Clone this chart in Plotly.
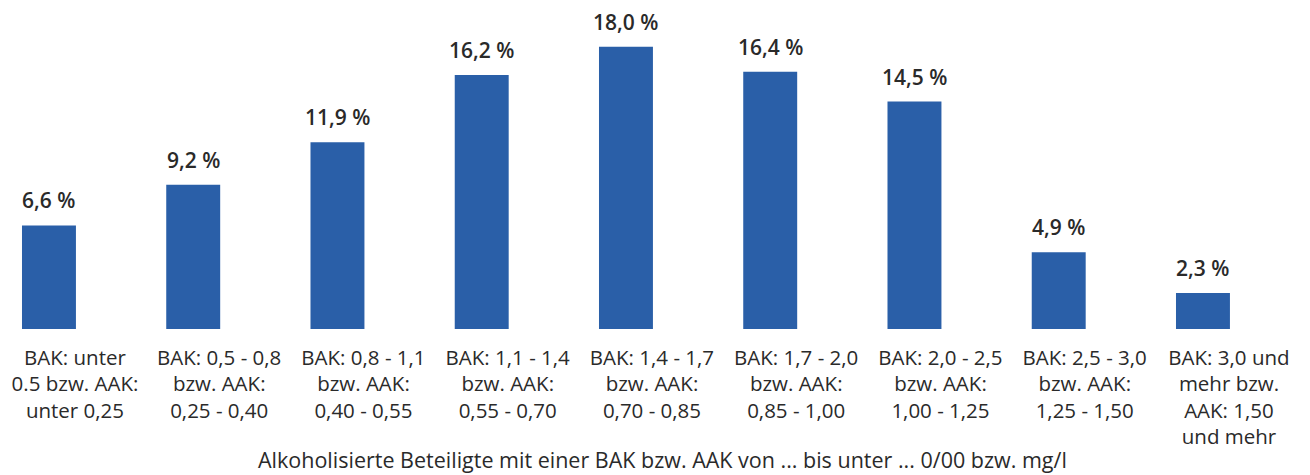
import plotly.graph_objects as go

categories = [
    "BAK: unter<br>0.5 bzw. AAK:<br>unter 0,25",
    "BAK: 0,5 - 0,8<br>bzw. AAK:<br>0,25 - 0,40",
    "BAK: 0,8 - 1,1<br>bzw. AAK:<br>0,40 - 0,55",
    "BAK: 1,1 - 1,4<br>bzw. AAK:<br>0,55 - 0,70",
    "BAK: 1,4 - 1,7<br>bzw. AAK:<br>0,70 - 0,85",
    "BAK: 1,7 - 2,0<br>bzw. AAK:<br>0,85 - 1,00",
    "BAK: 2,0 - 2,5<br>bzw. AAK:<br>1,00 - 1,25",
    "BAK: 2,5 - 3,0<br>bzw. AAK:<br>1,25 - 1,50",
    "BAK: 3,0 und<br>mehr bzw.<br>AAK: 1,50<br>und mehr",
]
values = [6.6, 9.2, 11.9, 16.2, 18.0, 16.4, 14.5, 4.9, 2.3]
value_labels = ["6,6 %", "9,2 %", "11,9 %", "16,2 %", "18,0 %", "16,4 %", "14,5 %", "4,9 %", "2,3 %"]
x_title = "Alkoholisierte Beteiligte mit einer BAK bzw. AAK von ... bis unter ... 0/00 bzw. mg/l"

FONT = "Open Sans"
TXT = "#2a2a2a"
W, H = 1302, 467   # page body has an 8px margin
T, B = 12, 146

xs = list(range(len(categories)))
fig = go.Figure(go.Bar(
    x=xs,
    y=values,
    width=0.374,
    marker=dict(color="#2a5fa8", line=dict(width=0)),
    hovertext=value_labels,
))

plot_h = H - T - B
annotations = [
    dict(x=x, y=v, xref="x", yref="y", text=lab, showarrow=False,
         yanchor="middle", yshift=25,
         font=dict(family=FONT, size=21, color=TXT, weight=600))
    for x, v, lab in zip(xs, values, value_labels)
]
annotations.append(dict(
    text=x_title, x=0.503, xref="paper",
    y=-(451 - 321) / plot_h, yref="paper", yanchor="middle",
    showarrow=False, font=dict(family=FONT, size=21.5, color=TXT, weight=500),
))

fig.update_layout(
    width=W, height=H,
    margin=dict(l=0, r=0, t=T, b=B),
    paper_bgcolor="white", plot_bgcolor="white",
    showlegend=False,
    font=dict(family=FONT, size=18, color=TXT),
    xaxis=dict(
        range=[-0.284, 8.742],
        tickmode="array",
        tickvals=xs,
        ticktext=categories,
        showgrid=False, zeroline=False, showline=False, ticks="",
        tickfont=dict(family=FONT, size=20.5, color=TXT, weight=500),
        ticklabeloverflow="allow",
        ticklabelstandoff=14,
        ticklabelshift=26,
        automargin=False,
    ),
    yaxis=dict(range=[0, 19.7], visible=False),
    annotations=annotations,
)

fig.write_html("out.html")
